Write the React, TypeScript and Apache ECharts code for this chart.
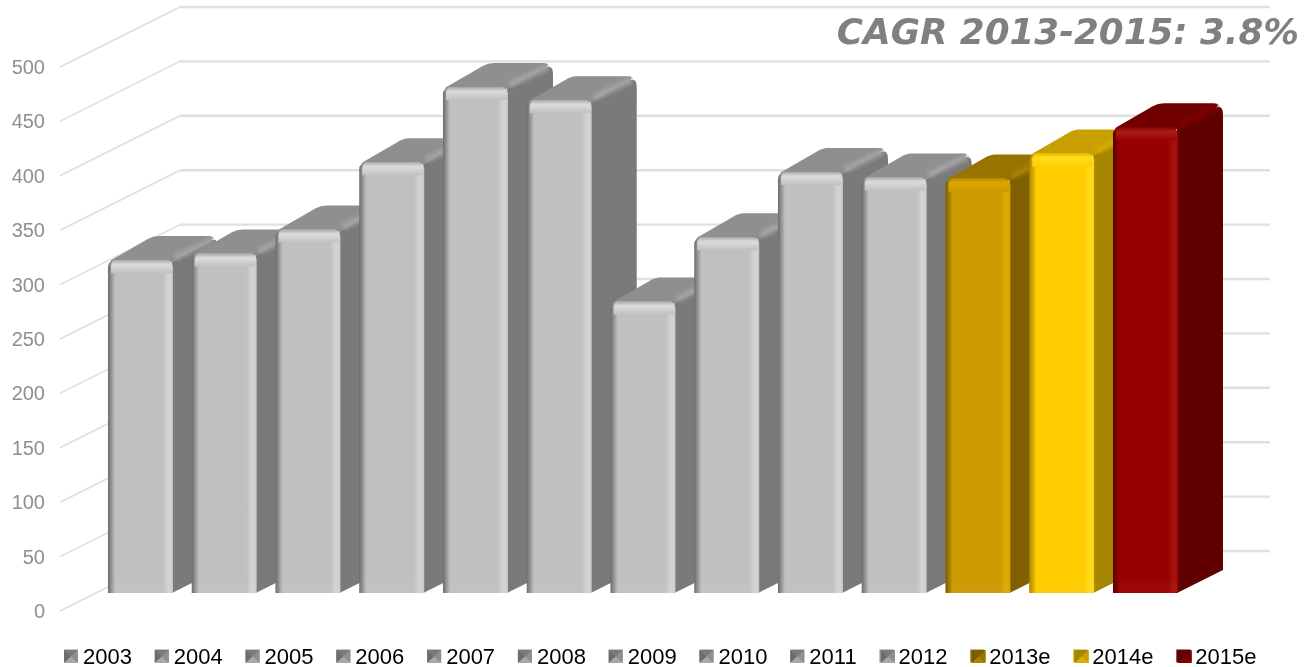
import React, { useEffect, useRef } from "react";
import * as echarts from "echarts";

const categories = ["2003", "2004", "2005", "2006", "2007", "2008", "2009", "2010", "2011", "2012", "2013e", "2014e", "2015e"];
const values = [306, 312, 334, 396, 465, 453, 268, 327, 387, 382, 381, 404, 428];
const axisTicks = [0, 50, 100, 150, 200, 250, 300, 350, 400, 450, 500];
const titleText = "CAGR 2013-2015: 3.8%";

const gray = { front: "#c0c0c0", edge: "#6c6c6c", hi: "#d2d2d2", top: "#8f8f8f", band: "#a8a8a8", side: "#7a7a7a", cap: "#d8d8d8", capEdge: "#a8a8a8" };
const gold = { front: "#cc9900", edge: "#7a5c00", hi: "#dba900", top: "#997300", band: "#ad8300", side: "#806000", cap: "#d9a600", capEdge: "#b88a00" };
const yellow = { front: "#ffcc00", edge: "#a68500", hi: "#ffd91a", top: "#c7a000", band: "#d9b000", side: "#a68500", cap: "#ffdb1a", capEdge: "#e6b800" };
const red = { front: "#990000", edge: "#5c0000", hi: "#a81010", top: "#700000", band: "#820000", side: "#600000", cap: "#a81a1a", capEdge: "#8a0000" };
const palettes = [gray, gray, gray, gray, gray, gray, gray, gray, gray, gray, gold, yellow, red];

const DX = 45;
const DY = 23;
const TOP_RISE = 24;
const BAR_RATIO = 65 / 83.75;

type Pt = [number, number];
function rounded(pts: Pt[], radii: number[]): Pt[] {
  const out: Pt[] = [];
  pts.forEach((p, i) => {
    const r = radii[i];
    if (!r) {
      out.push(p);
      return;
    }
    const a = pts[(i + pts.length - 1) % pts.length];
    const b = pts[(i + 1) % pts.length];
    const la = Math.hypot(a[0] - p[0], a[1] - p[1]) || 1;
    const lb = Math.hypot(b[0] - p[0], b[1] - p[1]) || 1;
    const s: Pt = [p[0] + ((a[0] - p[0]) * r) / la, p[1] + ((a[1] - p[1]) * r) / la];
    const e: Pt = [p[0] + ((b[0] - p[0]) * r) / lb, p[1] + ((b[1] - p[1]) * r) / lb];
    for (let k = 0; k <= 6; k++) {
      const t = k / 6;
      const u = 1 - t;
      out.push([u * u * s[0] + 2 * u * t * p[0] + t * t * e[0], u * u * s[1] + 2 * u * t * p[1] + t * t * e[1]]);
    }
  });
  return out;
}

function barRenderer(pal: typeof gray) {
  return (_: any, api: any) => {
    const topPt = api.coord([api.value(0), api.value(1)]);
    const basePt = api.coord([api.value(0), 0]);
    const w = api.size([1, 0])[0] * BAR_RATIO;
    const x = topPt[0] - w / 2;
    const y = topPt[1];
    const y0 = basePt[1];
    const h = y0 - y;
    const side = rounded(
      [[x + w - 1, y + 1], [x + w + DX, y - TOP_RISE], [x + w + DX, y0 - DY], [x + w - 1, y0]],
      [0, 11, 0, 0]
    );
    const top = rounded(
      [[x, y + 2], [x + DX, y - TOP_RISE], [x + w + DX, y - TOP_RISE], [x + w, y + 2]],
      [5, 6, 11, 0]
    );
    const frontFill = new echarts.graphic.LinearGradient(0, 0, 1, 0, [
      { offset: 0, color: pal.edge },
      { offset: 0.11, color: pal.front },
      { offset: 0.84, color: pal.front },
      { offset: 0.92, color: pal.hi },
      { offset: 0.97, color: pal.hi },
      { offset: 1, color: pal.front },
    ]);
    const capFill = new echarts.graphic.LinearGradient(0, 0, 0, 1, [
      { offset: 0, color: pal.capEdge },
      { offset: 0.3, color: pal.cap },
      { offset: 0.45, color: pal.cap },
      { offset: 1, color: pal.front },
    ]);
    const bandLine = (width: number, opacity: number) => ({
      type: "line",
      shape: { x1: x + w + 5, y1: y - 4, x2: x + w + DX - 8, y2: y - TOP_RISE + 5 },
      style: { stroke: pal.band, lineWidth: width, lineCap: "round", opacity },
    });
    return {
      type: "group",
      children: [
        { type: "polygon", shape: { points: side }, style: { fill: pal.side } },
        { type: "polygon", shape: { points: top }, style: { fill: pal.top } },
        bandLine(11, 0.25),
        bandLine(7, 0.35),
        bandLine(3, 0.5),
        { type: "rect", shape: { x, y, width: w, height: h, r: [7, 7, 0, 0] }, style: { fill: frontFill } },
        {
          type: "rect",
          shape: { x: x + 3, y, width: w - 4, height: 13, r: [6, 6, 0, 0] },
          style: { fill: capFill },
        },
        {
          type: "rect",
          shape: { x: x + w * 0.08, y: y0 - 10, width: w * 0.92, height: 10 },
          style: { fill: "#ffffff", opacity: 0.03 },
        },
      ],
    };
  };
}

function wallRenderer(_: any, api: any) {
  const p = api.coord([0, api.value(0)]);
  return {
    type: "group",
    children: [
      {
        type: "line",
        shape: { x1: p[0], y1: p[1], x2: p[0] + 120, y2: p[1] - 60 },
        style: { stroke: "#dedede", lineWidth: 1.6 },
      },
      {
        type: "line",
        shape: { x1: p[0] + 120, y1: p[1] - 60, x2: p[0] + 1210, y2: p[1] - 60 },
        style: { stroke: "#e0e0e0", lineWidth: 2.4 },
      },
    ],
  };
}

const LEGEND_LEFT = 64;
const LEGEND_GAP = 22.85;
const LEGEND_ICON_W = 14;
const LEGEND_ICON_H = 13;
const LEGEND_FONT = 22;

function legendBevels() {
  let lx = LEGEND_LEFT;
  return categories.map((name, i) => {
    const pal = palettes[i];
    const c: Pt = [LEGEND_ICON_W / 2, LEGEND_ICON_H / 2];
    const tri = (a: Pt, b: Pt, fill: string) => ({ type: "polygon", z: 20, shape: { points: [a, b, c] }, style: { fill } });
    const group = {
      type: "group",
      x: lx,
      y: 650,
      children: [
        tri([0, 0], [LEGEND_ICON_W, 0], pal.side),
        tri([0, 0], [0, LEGEND_ICON_H], pal.edge),
        tri([LEGEND_ICON_W, 0], [LEGEND_ICON_W, LEGEND_ICON_H], pal.top),
        tri([0, LEGEND_ICON_H], [LEGEND_ICON_W, LEGEND_ICON_H], pal.band),
      ],
    };
    lx += LEGEND_ICON_W + 5 + name.length * 0.556 * LEGEND_FONT + LEGEND_GAP;
    return group;
  });
}

export default function App() {
  const ref = useRef<HTMLDivElement>(null);
  useEffect(() => {
    document.body.style.margin = "0";
    const chart = echarts.init(ref.current!, null, { renderer: "svg" });
    const barSeries = categories.map((name, i) => ({
      type: "custom",
      name,
      xAxisIndex: 0,
      yAxisIndex: 0,
      z: 5,
      itemStyle: { color: palettes[i].top },
      encode: { x: 0, y: 1 },
      data: [[name, values[i]]],
      renderItem: barRenderer(palettes[i]),
    }));
    chart.setOption({
      animation: false,
      title: {
        text: titleText,
        right: 11,
        top: 13,
        padding: 0,
        textStyle: {
          fontFamily: "DejaVu Sans",
          fontWeight: "bold",
          fontStyle: "italic",
          fontSize: 35.7,
          color: "#808080",
        },
      },
      legend: {
        left: LEGEND_LEFT,
        top: 645,
        padding: 0,
        z: 1,
        itemWidth: LEGEND_ICON_W,
        itemHeight: LEGEND_ICON_H,
        itemGap: LEGEND_GAP,
        selectedMode: false,
        icon: "rect",
        data: categories,
        textStyle: { fontFamily: "Liberation Sans", fontSize: LEGEND_FONT, color: "#000000" },
      },
      grid: [
        { left: 98.6, top: 49, width: 1088.75, height: 544 },
        { left: 60, top: 67, width: 1210, height: 544 },
      ],
      xAxis: [
        { gridIndex: 0, type: "category", data: categories, show: false },
        { gridIndex: 1, type: "value", min: 0, max: 1, show: false },
      ],
      yAxis: [
        { gridIndex: 0, type: "value", min: 0, max: 500, interval: 50, show: false },
        {
          gridIndex: 1,
          type: "value",
          min: 0,
          max: 500,
          interval: 50,
          axisLine: { show: false },
          axisTick: { show: false },
          splitLine: { show: false },
          axisLabel: {
            margin: 15,
            fontFamily: "Liberation Sans",
            fontSize: 20,
            color: "#8f8f8f",
          },
        },
      ],
      graphic: { z: 20, elements: legendBevels() },
      series: [
        {
          type: "custom",
          xAxisIndex: 1,
          yAxisIndex: 1,
          z: 1,
          silent: true,
          encode: { y: 0 },
          data: axisTicks.map((t) => [t]),
          renderItem: wallRenderer,
        },
        ...barSeries,
      ],
    });
    return () => chart.dispose();
  }, []);
  return <div ref={ref} style={{ position: "fixed", left: 0, top: 0, width: 1310, height: 667 }} />;
}
